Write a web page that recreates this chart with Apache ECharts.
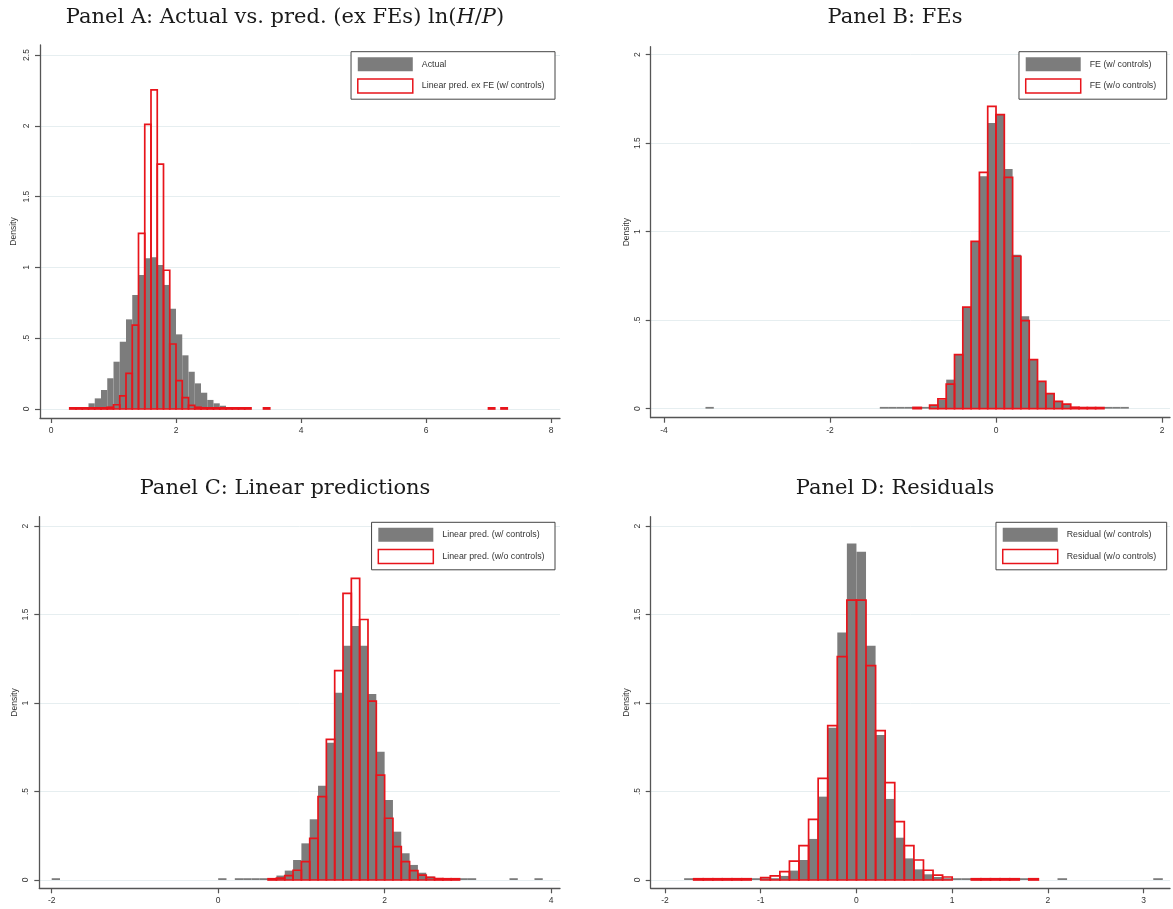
<!DOCTYPE html>
<html lang="en">
<head>
<meta charset="UTF-8">
<title>Histograms</title>
<script src="https://cdn.jsdelivr.net/npm/echarts@6.0.0/dist/echarts.min.js"></script>
<style>
  html, body { margin: 0; padding: 0; background: #fff; }
  #chart { width: 1173px; height: 909px; }
</style>
</head>
<body>
<div id="chart"></div>
<script>
// histogram bins: [left edge, density], every bin is 0.1 wide
const binW = 0.1;

// Panel A
const actualA = [[0.6, 0.04], [0.7, 0.075], [0.8, 0.134], [0.9, 0.217], [1.0, 0.334], [1.1, 0.475],
  [1.2, 0.633], [1.3, 0.805], [1.4, 0.946], [1.5, 1.064], [1.6, 1.071], [1.7, 1.017], [1.8, 0.876],
  [1.9, 0.708], [2.0, 0.527], [2.1, 0.379], [2.2, 0.263], [2.3, 0.181], [2.4, 0.115], [2.5, 0.064],
  [2.6, 0.04], [2.7, 0.023], [2.8, 0.012], [2.9, 0.01]];
const predA = [[0.3, 0.008], [0.4, 0.008], [0.5, 0.008], [0.6, 0.008], [0.7, 0.008], [0.8, 0.008],
  [0.9, 0.012], [1.0, 0.03], [1.1, 0.092], [1.2, 0.252], [1.3, 0.593], [1.4, 1.24], [1.5, 2.01],
  [1.6, 2.253], [1.7, 1.73], [1.8, 0.98], [1.9, 0.459], [2.0, 0.2], [2.1, 0.08], [2.2, 0.025],
  [2.3, 0.012], [2.4, 0.008], [2.5, 0.008], [2.6, 0.008], [2.7, 0.008], [2.8, 0.008], [2.9, 0.008],
  [3.0, 0.008], [3.1, 0.008], [3.4, 0.008], [7.0, 0.008], [7.2, 0.008]];

// Panel B
const feCtrl = [[-3.5, 0.01], [-1.4, 0.01], [-1.3, 0.01], [-1.2, 0.01], [-1.1, 0.01], [-1.0, 0.01],
  [-0.9, 0.01], [-0.8, 0.015], [-0.7, 0.05], [-0.6, 0.164], [-0.5, 0.305], [-0.4, 0.574], [-0.3, 0.945],
  [-0.2, 1.313], [-0.1, 1.614], [0.0, 1.661], [0.1, 1.354], [0.2, 0.87], [0.3, 0.522], [0.4, 0.277],
  [0.5, 0.154], [0.6, 0.085], [0.7, 0.041], [0.8, 0.026], [0.9, 0.01], [1.0, 0.01], [1.1, 0.01],
  [1.2, 0.01], [1.3, 0.01], [1.4, 0.01], [1.5, 0.01]];
const feNoCtrl = [[-1.0, 0.007], [-0.8, 0.02], [-0.7, 0.055], [-0.6, 0.139], [-0.5, 0.305], [-0.4, 0.574],
  [-0.3, 0.945], [-0.2, 1.335], [-0.1, 1.708], [0.0, 1.661], [0.1, 1.307], [0.2, 0.861], [0.3, 0.497],
  [0.4, 0.277], [0.5, 0.154], [0.6, 0.085], [0.7, 0.041], [0.8, 0.026], [0.9, 0.008], [1.0, 0.006],
  [1.1, 0.006], [1.2, 0.006]];

// Panel C
const linCtrl = [[-2.0, 0.01], [0.0, 0.01], [0.2, 0.01], [0.3, 0.01], [0.4, 0.01], [0.5, 0.01],
  [0.6, 0.01], [0.7, 0.025], [0.8, 0.053], [0.9, 0.113], [1.0, 0.207], [1.1, 0.343], [1.2, 0.533],
  [1.3, 0.776], [1.4, 1.058], [1.5, 1.324], [1.6, 1.435], [1.7, 1.324], [1.8, 1.051], [1.9, 0.725],
  [2.0, 0.452], [2.1, 0.273], [2.2, 0.151], [2.3, 0.085], [2.4, 0.041], [2.5, 0.019], [2.6, 0.01],
  [2.7, 0.01], [2.8, 0.01], [2.9, 0.01], [3.0, 0.01], [3.5, 0.01], [3.8, 0.01]];
const linNoCtrl = [[0.6, 0.007], [0.7, 0.01], [0.8, 0.025], [0.9, 0.055], [1.0, 0.104], [1.1, 0.235],
  [1.2, 0.471], [1.3, 0.795], [1.4, 1.183], [1.5, 1.62], [1.6, 1.704], [1.7, 1.472], [1.8, 1.011],
  [1.9, 0.593], [2.0, 0.349], [2.1, 0.188], [2.2, 0.104], [2.3, 0.053], [2.4, 0.028], [2.5, 0.015],
  [2.6, 0.008], [2.7, 0.007], [2.8, 0.007]];

// Panel D
const resCtrl = [[-1.8, 0.01], [-1.1, 0.01], [-1.0, 0.01], [-0.9, 0.01], [-0.8, 0.023], [-0.7, 0.053],
  [-0.6, 0.113], [-0.5, 0.232], [-0.4, 0.471], [-0.3, 0.861], [-0.2, 1.399], [-0.1, 1.902], [0.0, 1.855],
  [0.1, 1.324], [0.2, 0.819], [0.3, 0.458], [0.4, 0.239], [0.5, 0.122], [0.6, 0.06], [0.7, 0.032],
  [0.8, 0.017], [0.9, 0.01], [1.0, 0.01], [1.1, 0.01], [1.7, 0.01], [2.1, 0.01], [3.1, 0.01]];
const resNoCtrl = [[-1.7, 0.007], [-1.6, 0.007], [-1.5, 0.007], [-1.4, 0.007], [-1.3, 0.007], [-1.2, 0.007],
  [-1.0, 0.013], [-0.9, 0.023], [-0.8, 0.047], [-0.7, 0.107], [-0.6, 0.194], [-0.5, 0.343], [-0.4, 0.574],
  [-0.3, 0.872], [-0.2, 1.262], [-0.1, 1.582], [0.0, 1.582], [0.1, 1.211], [0.2, 0.844], [0.3, 0.55],
  [0.4, 0.33], [0.5, 0.194], [0.6, 0.113], [0.7, 0.055], [0.8, 0.028], [0.9, 0.017], [1.2, 0.007],
  [1.3, 0.007], [1.4, 0.007], [1.5, 0.007], [1.6, 0.007], [1.8, 0.007]];

const xTicksA = [0, 2, 4, 6, 8];
const xTicksB = [-4, -2, 0, 2];
const xTicksC = [-2, 0, 2, 4];
const xTicksD = [-2, -1, 0, 1, 2, 3];
const yTicksA = [0, 0.5, 1, 1.5, 2, 2.5];
const yTicks = [0, 0.5, 1, 1.5, 2];

const titles = ['Panel A: Actual vs. pred. (ex FEs) ln({it|H}/{it|P})', 'Panel B: FEs',
  'Panel C: Linear predictions', 'Panel D: Residuals'];
const names = [
  ['Actual', 'Linear pred. ex FE (w/ controls)'],
  ['FE (w/ controls)', 'FE (w/o controls)'],
  ['Linear pred. (w/ controls)', 'Linear pred. (w/o controls)'],
  ['Residual (w/ controls)', 'Residual (w/o controls)']
];

const grey = '#7c7c7c';
const red = '#e8141b';
const sans = 'Liberation Sans, Arial, sans-serif';

const panels = [
  { grid: { left: 40, top: 45, width: 520, height: 373 }, x: [-0.176, 8.144], y: [-0.0636, 2.5706],
    xt: xTicksA, yt: yTicksA, fill: actualA, line: predA, legend: { right: 618, top: 51.7 }, title: [285, 18] },
  { grid: { left: 650.7, top: 46.7, width: 519.3, height: 371 }, x: [-4.16, 2.096], y: [-0.051, 2.045],
    xt: xTicksB, yt: yTicks, fill: feCtrl, line: feNoCtrl, legend: { right: 6.3, top: 51.7 }, title: [895, 18] },
  { grid: { left: 39.3, top: 516.7, width: 520.7, height: 371.6 }, x: [-2.149, 4.107], y: [-0.047, 2.053],
    xt: xTicksC, yt: yTicks, fill: linCtrl, line: linNoCtrl, legend: { right: 618, top: 522.3 }, title: [285, 488.6] },
  { grid: { left: 650.7, top: 516.7, width: 519.3, height: 371.6 }, x: [-2.149, 3.275], y: [-0.047, 2.053],
    xt: xTicksD, yt: yTicks, fill: resCtrl, line: resNoCtrl, legend: { right: 6.3, top: 522.3 }, title: [895, 488.6] }
];

function histItem(filled) {
  return function (params, api) {
    const x0 = api.value(0);
    const top = api.coord([x0, api.value(1)]);
    const bot = api.coord([x0 + binW, 0]);
    return {
      type: 'rect',
      shape: { x: top[0], y: top[1], width: bot[0] - top[0], height: bot[1] - top[1] },
      style: filled ? { fill: grey } : { fill: 'none', stroke: red, lineWidth: 1.7 }
    };
  };
}

const axisLine = { show: true, onZero: false, lineStyle: { color: '#555', width: 1.3 } };
const axisTick = { show: true, length: 5, lineStyle: { color: '#555', width: 1.2 } };
const stataNum = v => String(v).replace(/^0\./, '.').replace(/^-0\./, '-.');

const option = {
  animation: false,
  backgroundColor: '#fff',
  grid: [], xAxis: [], yAxis: [], series: [], legend: [], graphic: []
};

panels.forEach((p, i) => {
  option.grid.push(Object.assign({ outerBoundsMode: 'none', containLabel: false }, p.grid));
  option.xAxis.push({
    type: 'value', gridIndex: i, min: p.x[0], max: p.x[1],
    axisLine, axisTick: Object.assign({ customValues: p.xt }, axisTick),
    axisLabel: { customValues: p.xt, margin: 8, fontSize: 8.5, color: '#333', fontFamily: sans, formatter: stataNum },
    splitLine: { show: false }
  });
  option.yAxis.push({
    type: 'value', gridIndex: i, min: p.y[0], max: p.y[1],
    name: 'Density', nameLocation: 'middle', nameRotate: 90, nameGap: i === 0 ? 22 : 20,
    nameTextStyle: { fontSize: 8.5, color: '#333', fontFamily: sans },
    axisLine, axisTick: Object.assign({ customValues: p.yt }, axisTick),
    axisLabel: { customValues: p.yt, rotate: 90, margin: 9, fontSize: 8.5, color: '#333', fontFamily: sans, formatter: stataNum },
    splitLine: { show: true, lineStyle: { color: '#e6eef0', width: 1 } }
  });
  option.series.push({
    type: 'custom', name: names[i][0], xAxisIndex: i, yAxisIndex: i,
    renderItem: histItem(true), data: p.fill, z: 2
  });
  option.series.push({
    type: 'custom', name: names[i][1], xAxisIndex: i, yAxisIndex: i,
    renderItem: histItem(false), data: p.line, z: 3
  });
  option.legend.push({
    orient: 'vertical', right: p.legend.right, top: p.legend.top,
    icon: 'rect', itemWidth: 55, itemHeight: 14, itemGap: 7,
    padding: [5.5, 10.5, 5.5, 6], borderColor: '#444', borderWidth: 1, backgroundColor: '#fff',
    selectedMode: false,
    textStyle: { fontSize: 8.8, color: '#333', fontFamily: sans, padding: [0, 0, 0, 4] },
    data: [
      { name: names[i][0], itemStyle: { color: grey, borderWidth: 0 } },
      { name: names[i][1], itemStyle: { color: '#fff', borderColor: red, borderWidth: 1.5 } }
    ]
  });
  option.graphic.push({
    type: 'text', x: p.title[0], y: p.title[1], silent: true,
    style: {
      text: titles[i], align: 'center', verticalAlign: 'middle',
      fontSize: 21, fontFamily: 'DejaVu Serif', fill: '#1a1a1a',
      rich: { it: { fontSize: 21, fontFamily: 'DejaVu Serif', fontStyle: 'italic', fill: '#1a1a1a' } }
    }
  });
});

const myChart = echarts.init(document.getElementById('chart'));
myChart.setOption(option);
</script>
</body>
</html>
